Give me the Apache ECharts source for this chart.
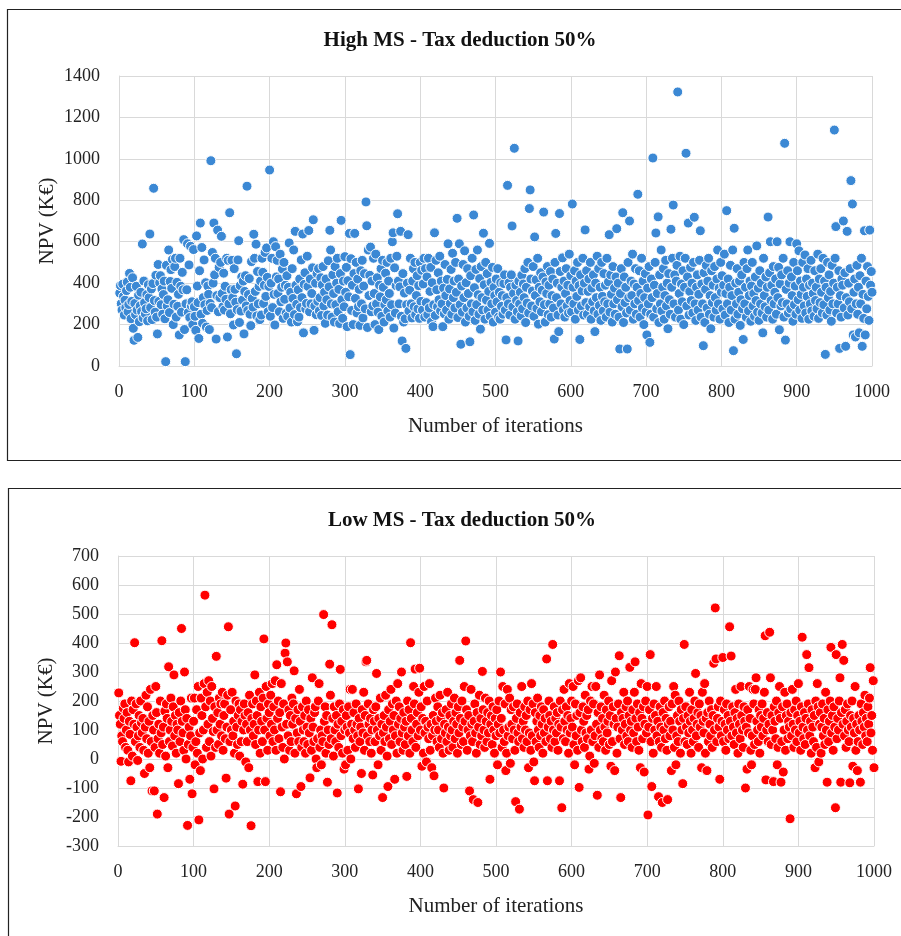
<!DOCTYPE html>
<html><head><meta charset="utf-8">
<script src="https://cdn.jsdelivr.net/npm/echarts@6/dist/echarts.min.js"></script>
<style>html,body{margin:0;padding:0;background:#fff}#c{width:901px;height:936px}</style>
</head><body><div id="c"></div>
<script>
const chartTitles = ['High MS - Tax deduction 50%', 'Low MS - Tax deduction 50%'];
const xAxisName = 'Number of iterations';
const yAxisName = 'NPV (K\u20ac)';
const highYTicks = {min: 0, max: 1400, interval: 200};
const lowYTicks = {min: -300, max: 700, interval: 100};
const xTicks = {min: 0, max: 1000, interval: 100};

const highMsNpv = [
352,388,301,270,395,336,246,318,282,364,
405,262,297,447,380,228,312,426,182,124,
302,248,385,270,138,342,214,290,356,263,
589,232,410,306,252,276,345,218,392,330,
637,282,372,224,398,858,316,260,438,236,
155,490,312,402,436,296,372,250,345,410,
228,21,486,290,320,560,258,408,465,375,
514,200,298,480,520,236,404,288,346,150,
520,385,260,452,368,610,176,21,300,368,
590,258,488,234,578,290,310,200,562,285,
240,172,628,386,306,133,460,690,250,572,
206,330,512,296,402,188,268,386,346,176,
302,991,282,548,400,690,440,520,130,340,
656,262,476,330,500,626,350,286,448,270,
385,322,520,140,510,300,740,252,368,510,
330,198,470,370,308,59,272,512,605,210,
388,265,430,318,410,155,360,436,290,868,
268,345,422,250,195,504,326,284,636,520,
360,588,242,456,300,384,224,410,246,520,
452,302,390,548,336,570,428,262,384,946,
240,400,520,282,600,346,198,576,430,510,
350,420,262,540,310,380,468,230,500,322,
390,255,436,240,380,594,280,356,212,470,
326,560,248,650,390,298,214,368,236,420,
282,512,330,637,160,394,450,276,302,530,
384,654,262,420,300,350,474,706,172,290,
400,248,446,312,470,266,330,426,244,392,
480,290,356,206,420,320,246,508,382,655,
560,300,236,440,350,212,480,296,400,520,
262,370,205,446,703,320,230,410,286,528,
356,476,190,412,334,640,55,518,268,390,
200,446,640,326,500,256,420,286,370,196,
460,300,510,232,386,446,276,792,677,186,
560,340,438,574,262,410,290,520,350,200,
540,300,426,260,176,390,334,470,240,510,
380,212,296,448,320,500,266,410,350,236,
520,296,600,643,183,474,256,388,530,735,
410,300,382,650,240,121,446,212,352,228,
85,296,400,634,266,366,520,300,232,410,
470,286,500,248,340,436,276,388,230,500,
312,462,270,396,520,236,470,306,430,248,
520,280,360,476,214,402,190,296,643,244,
510,368,286,450,320,530,266,410,300,190,
376,252,490,340,270,418,590,226,372,302,
466,250,544,330,410,280,500,356,713,234,
420,590,296,105,386,260,490,330,556,212,
402,280,470,350,240,117,436,300,520,262,
729,378,220,466,296,560,344,250,422,178,
480,330,270,641,392,226,500,318,446,270,
360,592,240,404,300,476,212,380,340,260,
420,310,470,236,356,226,402,288,340,250,
398,440,270,126,330,872,300,402,246,380,
440,676,286,350,1051,226,390,316,262,121,
410,300,356,242,438,276,396,330,470,210,
380,304,500,256,760,850,420,290,362,480,
240,623,340,416,278,520,202,380,310,450,
262,366,430,743,296,212,406,350,480,248,
390,300,456,236,340,420,280,130,500,640,
330,400,246,166,736,456,300,380,522,270,
410,236,350,470,290,390,256,540,316,436,
262,782,380,300,460,226,410,336,500,270,
388,128,440,290,362,520,246,400,657,306,
460,250,360,420,286,500,226,376,310,440,
266,166,400,330,530,250,470,292,380,220,
500,336,266,446,310,390,236,520,300,406,
634,260,440,346,212,480,300,376,250,430,
663,320,400,236,82,350,470,286,740,210,
430,306,380,256,82,500,330,700,270,410,
340,540,226,396,300,470,250,380,829,316,
460,236,350,520,280,410,200,330,446,262,
150,376,300,480,114,250,420,330,1004,236,
390,500,642,276,350,720,210,440,300,560,
266,380,470,226,340,510,290,400,180,446,
320,250,660,380,520,777,300,440,236,410,
486,1323,270,350,530,226,396,310,460,200,
380,520,1027,290,430,690,246,360,476,316,
400,256,500,718,300,220,380,440,270,346,
510,653,236,396,300,98,450,210,370,486,
280,410,520,250,340,180,460,306,390,236,
480,330,270,420,560,300,376,226,500,356,
436,276,390,540,246,350,750,300,420,210,
380,486,270,340,560,74,665,226,400,300,
470,250,356,410,196,320,440,276,128,500,
300,380,236,470,560,266,340,410,216,386,
500,290,350,240,430,316,580,260,376,220,
460,300,400,256,160,520,340,286,430,236,
380,719,270,450,600,316,390,226,480,300,
356,420,250,600,330,476,175,396,290,440,
306,520,236,1075,125,370,300,460,256,400,
600,276,430,340,216,500,296,386,250,590,
460,320,556,270,410,346,230,500,380,290,
536,256,420,336,470,226,390,300,510,266,
400,350,240,460,316,380,276,540,230,420,
306,470,356,256,520,296,410,56,380,246,
500,330,440,270,360,216,486,300,400,1139,
520,673,256,380,300,460,85,340,236,420,
390,700,280,450,95,330,650,246,400,310,
470,895,276,782,150,356,420,140,300,486,
250,380,160,436,300,520,95,346,230,653,
150,410,276,480,336,220,656,390,456,356
];

const lowMsNpv = [
228,150,120,-8,80,60,175,140,190,40,
100,160,30,-10,130,85,-75,200,10,170,
120,401,60,190,110,-5,80,150,40,200,
125,90,140,30,-50,110,220,70,180,20,
130,-30,240,60,-110,150,100,-110,40,250,
160,-190,70,120,20,200,90,408,50,110,
-133,165,10,190,140,-30,318,60,100,210,
130,45,180,290,80,150,20,120,100,-85,
160,60,200,450,130,90,30,300,170,0,
140,-229,50,110,-70,80,210,-120,40,130,
210,-20,60,170,20,250,-210,90,-40,210,
150,0,100,260,565,180,40,230,120,270,
60,200,10,250,140,95,-103,180,40,354,
100,160,50,210,120,190,80,230,30,150,
190,70,-66,110,220,456,-190,60,170,100,
230,80,130,20,-162,200,110,50,150,190,
10,170,60,130,-87,100,190,150,-10,120,
60,160,-30,220,100,-230,140,190,80,120,
290,50,200,150,-78,100,230,20,180,130,
60,210,414,100,-78,250,140,30,190,160,
80,220,120,260,60,180,100,270,30,325,
140,200,70,160,-113,260,110,40,190,0,
365,400,120,335,80,170,30,150,60,210,
120,190,304,20,140,-120,90,170,60,240,
130,-95,40,180,100,60,150,20,200,110,
50,170,90,-65,140,30,280,110,60,160,
180,0,-30,70,200,260,40,100,-20,80,
60,498,130,180,20,150,-80,100,50,327,
220,70,463,140,10,180,100,60,150,-117,
120,40,190,309,80,130,20,170,-35,100,
-20,150,110,30,180,90,240,0,120,240,
70,160,100,40,190,120,80,-103,140,60,
110,-50,170,90,230,30,150,335,340,80,
190,120,60,140,20,100,-55,170,130,60,
180,295,100,-20,140,80,210,30,120,-133,
90,150,60,220,110,10,-95,170,70,130,
240,50,190,100,150,-70,80,200,20,260,
120,180,60,140,300,90,30,160,110,50,
130,-60,200,80,170,20,401,140,100,60,
250,190,310,40,120,160,80,230,313,100,
180,-25,140,20,250,90,130,-10,200,110,
70,260,30,120,-30,80,150,-58,100,210,
130,60,180,100,40,220,140,70,160,20,
-100,120,90,170,60,230,110,30,150,80,
190,100,40,130,210,70,160,120,20,180,
90,340,140,50,200,110,60,250,130,407,
170,30,100,150,-110,80,240,120,60,-140,
130,190,90,20,160,-150,110,220,50,140,
80,302,170,100,40,210,130,60,160,90,
200,-70,120,150,50,180,100,20,140,80,
170,-20,120,200,90,300,140,40,250,100,
60,190,-40,20,240,80,110,210,-15,170,
120,70,180,100,30,-147,140,190,90,60,
-173,160,110,250,70,130,40,180,100,150,
60,200,-30,90,170,30,260,80,190,-10,
-75,160,60,130,210,100,40,150,80,180,
120,20,170,90,140,60,345,-75,110,200,
150,70,130,40,395,100,180,60,140,90,
160,30,120,-75,200,110,-168,170,70,240,
130,60,180,100,150,20,260,90,140,200,
110,250,50,-20,190,80,150,30,270,-98,
160,280,100,60,180,130,40,220,90,150,
70,170,-35,10,200,100,250,60,190,-15,
80,250,120,-125,160,40,290,100,180,70,
140,60,220,110,30,170,90,130,200,50,
150,-25,270,60,180,120,-40,300,140,20,
110,190,356,70,-133,160,100,140,230,50,
120,180,80,200,60,150,316,100,130,40,
170,90,230,335,140,60,190,110,30,160,
-30,260,140,70,180,-45,120,200,90,250,
-193,110,170,360,60,-95,140,20,190,100,
150,250,80,130,-130,60,180,110,40,-150,
160,100,200,70,140,30,-140,120,180,80,
130,-40,190,100,250,40,220,-20,80,150,
60,200,130,20,170,100,-85,140,395,60,
180,110,50,150,90,230,130,20,170,100,
60,140,200,295,80,120,160,40,190,110,
150,-30,230,130,90,260,20,140,-40,160,
60,200,120,80,170,40,150,330,100,521,
345,60,140,180,110,-70,200,80,130,350,
60,170,120,30,190,100,150,70,456,130,
355,80,180,110,50,160,240,90,140,20,
190,120,70,250,150,100,40,180,130,-100,
110,-35,170,90,250,140,30,-20,80,240,
190,50,240,280,130,100,60,170,20,150,
110,190,80,140,230,425,-72,100,160,60,
120,437,280,50,150,100,-78,180,130,70,
200,-20,40,160,250,140,-80,60,180,-45,
100,230,30,150,190,70,130,110,-206,160,
80,240,120,40,170,100,200,60,150,260,
90,130,30,180,420,110,70,160,50,140,
360,100,190,315,80,130,20,170,110,60,
150,-30,200,40,260,180,-10,120,160,20,
110,190,80,140,50,230,100,-80,170,60,
130,200,385,90,150,30,180,110,-168,360,
70,140,100,200,280,-80,160,395,120,340,
80,170,40,130,190,100,60,-82,150,110,
200,-25,140,90,250,30,120,-40,60,150,
100,-80,190,130,50,160,110,220,80,140,
60,180,120,210,315,90,150,30,270,-30
];

const FONT = 'Liberation Serif';
const gridColor = '#d9d9d9';
const toPoints = arr => arr.map((v, i) => [i + 1, v]);
const plainNumber = v => String(v);

function xAxisFor(gi) {
  return {
    gridIndex: gi, type: 'value', min: xTicks.min, max: xTicks.max, interval: xTicks.interval,
    name: xAxisName, nameLocation: 'middle', nameGap: 50,
    nameTextStyle: {fontFamily: FONT, fontSize: 21, color: '#222'},
    axisLine: {show: true, onZero: false, lineStyle: {color: gridColor, width: 1}},
    axisTick: {show: false},
    axisLabel: {fontFamily: FONT, fontSize: 18, color: '#222', margin: 17, formatter: plainNumber},
    splitLine: {show: true, lineStyle: {color: gridColor, width: 1}}
  };
}
function yAxisFor(gi, t) {
  return {
    gridIndex: gi, type: 'value', min: t.min, max: t.max, interval: t.interval,
    name: yAxisName, nameLocation: 'middle', nameGap: 61, nameMoveOverlap: false,
    nameTextStyle: {fontFamily: FONT, fontSize: 21, color: '#222'},
    axisLine: {show: true, lineStyle: {color: gridColor, width: 1}},
    axisTick: {show: false},
    axisLabel: {fontFamily: FONT, fontSize: 18, color: '#222', margin: 19, formatter: plainNumber},
    splitLine: {show: true, lineStyle: {color: gridColor, width: 1}}
  };
}

const chart = echarts.init(document.getElementById('c'));
chart.setOption({
  animation: false,
  backgroundColor: '#fff',
  title: [
    {text: chartTitles[0], left: 455, top: 25, textAlign: 'center',
     textStyle: {fontFamily: FONT, fontSize: 21, fontWeight: 'bold', color: '#111'}},
    {text: chartTitles[1], left: 457, top: 505, textAlign: 'center',
     textStyle: {fontFamily: FONT, fontSize: 21, fontWeight: 'bold', color: '#111'}}
  ],
  graphic: [
    {type: 'rect', shape: {x: 7.5, y: 9.5, width: 900, height: 451}, style: {fill: 'none', stroke: '#222', lineWidth: 1.2}, z: -1},
    {type: 'rect', shape: {x: 8.5, y: 488.5, width: 900, height: 460}, style: {fill: 'none', stroke: '#222', lineWidth: 1.2}, z: -1}
  ],
  grid: [
    {left: 119, top: 76, width: 753, height: 290},
    {left: 118, top: 556, width: 756, height: 290}
  ],
  xAxis: [xAxisFor(0), xAxisFor(1)],
  yAxis: [yAxisFor(0, highYTicks), yAxisFor(1, lowYTicks)],
  series: [
    {type: 'scatter', xAxisIndex: 0, yAxisIndex: 0, data: toPoints(highMsNpv), symbol: 'circle', symbolSize: 10,
     itemStyle: {color: '#3b88d4', borderColor: '#fff', borderWidth: 1, opacity: 1}},
    {type: 'scatter', xAxisIndex: 1, yAxisIndex: 1, data: toPoints(lowMsNpv), symbol: 'circle', symbolSize: 10,
     itemStyle: {color: '#ff0000', borderColor: '#fff', borderWidth: 1, opacity: 1}}
  ]
});
</script></body></html>
